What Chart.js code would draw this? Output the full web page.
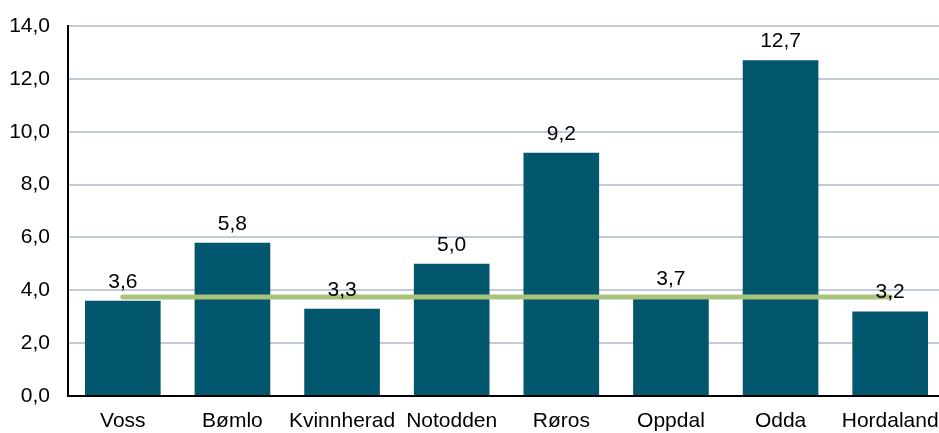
<!DOCTYPE html>
<html>
<head>
<meta charset="utf-8">
<script src="https://cdn.jsdelivr.net/npm/chart.js@4"></script>
<style>
html,body{margin:0;padding:0;background:#fff;overflow:hidden}
</style>
</head>
<body>
<canvas id="c" width="945" height="433"></canvas>
<script>
// data
const kommuner = ["Voss","Bømlo","Kvinnherad","Notodden","Røros","Oppdal","Odda","Hordaland"]
const verdier = [3.6,5.8,3.3,5.0,9.2,3.7,12.7,3.2]
const snitt = [3.75,3.75,3.75,3.75,3.75,3.75,3.75,3.75]
const yTicks = [0,2,4,6,8,10,12,14]

const fmt = v => v.toFixed(1).replace(".",",")

// value labels over the bars
const verdiEtiketter = {
id:"verdiEtiketter",
afterDatasetsDraw(chart){
const ctx = chart.ctx
const meta = chart.getDatasetMeta(1)
ctx.save()
ctx.font = "21px 'Liberation Sans', Arial, sans-serif"
ctx.fillStyle = "#000"
ctx.textAlign = "center"
ctx.textBaseline = "middle"
meta.data.forEach((bar,i)=>{
ctx.fillText(fmt(verdier[i]), bar.x, bar.y - 19)
})
ctx.restore()
}
}

Chart.defaults.font.family = "'Liberation Sans', Arial, sans-serif"
Chart.defaults.font.size = 21
Chart.defaults.color = "#000"

new Chart(document.getElementById("c"),{
type:"bar",
data:{
labels:kommuner,
datasets:[
{
type:"line",
data:snitt,
borderColor:"#a8c47c",
borderWidth:5,
borderCapStyle:"round",
pointRadius:0,
fill:false,
order:0
},
{
type:"bar",
data:verdier,
backgroundColor:"#02566e",
barPercentage:0.69,
categoryPercentage:1,
order:1
}
]
},
options:{
responsive:false,
animation:false,
devicePixelRatio:1,
layout:{padding:{top:26,right:0,left:0,bottom:0}},
plugins:{legend:{display:false},tooltip:{enabled:false}},
scales:{
x:{
grid:{display:false,drawTicks:false},
border:{color:"#000",width:2},
ticks:{padding:13,maxRotation:0,autoSkip:false},
afterFit(s){s.height=37;s.paddingLeft=0;s.paddingRight=0}
},
y:{
min:0,max:14,
afterBuildTicks(s){s.ticks = yTicks.map(v=>({value:v}))},
grid:{color:"#c3ccd6",lineWidth:2,drawTicks:false},
border:{color:"#000",width:2},
ticks:{padding:18,callback:v=>fmt(v)},
afterFit(s){s.width=68;s.paddingTop=0;s.paddingBottom=0}
}
}
},
plugins:[verdiEtiketter]
})
</script>
</body>
</html>
